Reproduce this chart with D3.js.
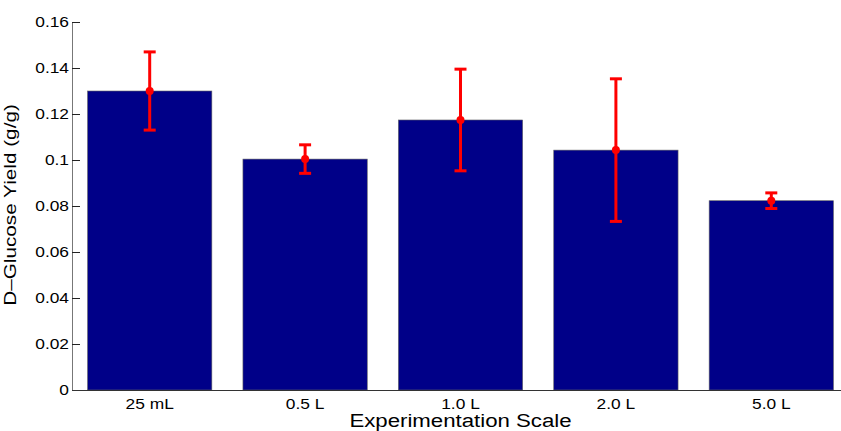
<!DOCTYPE html>
<html>
  <head>
    <meta charset="utf-8">
    <title>D-Glucose Yield</title>
    <script src="https://cdn.jsdelivr.net/npm/d3@7"></script>
    <style>
      body { margin: 0; background: #fff; }
      text { font-family: "Liberation Sans", Arial, sans-serif; fill: #000; }
    </style>
  </head>
  <body>
    <svg id="chart" width="841" height="431"></svg>
    <script>
      const scales = ["25 mL", "0.5 L", "1.0 L", "2.0 L", "5.0 L"];
      const yields = [0.130, 0.1004, 0.1174, 0.1043, 0.0823];
      const errors = [0.017, 0.0062, 0.0221, 0.0310, 0.0034];
      const yTicks = [0, 0.02, 0.04, 0.06, 0.08, 0.1, 0.12, 0.14, 0.16];

      const svg = d3.select("#chart");
      const plotLeft = 72, plotRight = 849, plotTop = 22, plotBottom = 390;
      const widen = 1.12; // the original font renders a bit wider than Arial

      // stretch text horizontally around its own anchor point
      function stretch(sel, k) {
        sel.each(function () {
          const t = d3.select(this);
          const tx = +t.attr("x") || 0, ty = +t.attr("y") || 0;
          t.attr("x", 0).attr("y", 0)
            .attr("transform", `translate(${tx},${ty}) scale(${k},1)`);
        });
      }

      const x = d3.scaleBand()
        .domain(scales)
        .range([plotLeft, plotRight])
        .paddingInner(0.2)
        .paddingOuter(0.1);

      const y = d3.scaleLinear().domain([0, 0.16]).range([plotBottom, plotTop]);

      const data = scales.map((s, i) => ({ s, v: yields[i], e: errors[i] }));

      // bars
      svg.append("g")
        .selectAll("rect")
        .data(data)
        .enter()
        .append("rect")
        .attr("x", d => x(d.s))
        .attr("y", d => y(d.v))
        .attr("width", x.bandwidth())
        .attr("height", d => y(0) - y(d.v))
        .attr("fill", "#000088")
        .attr("stroke", "#666")
        .attr("stroke-width", 0.6);

      // error bars
      const err = svg.append("g").attr("stroke", "#ff0000").attr("stroke-width", 3);
      const cx = d => x(d.s) + x.bandwidth() / 2;
      err.selectAll("line.v").data(data).enter().append("line")
        .attr("x1", cx).attr("x2", cx)
        .attr("y1", d => y(d.v + d.e)).attr("y2", d => y(d.v - d.e));
      err.selectAll("line.t").data(data).enter().append("line")
        .attr("x1", d => cx(d) - 6).attr("x2", d => cx(d) + 6)
        .attr("y1", d => y(d.v + d.e)).attr("y2", d => y(d.v + d.e));
      err.selectAll("line.b").data(data).enter().append("line")
        .attr("x1", d => cx(d) - 6).attr("x2", d => cx(d) + 6)
        .attr("y1", d => y(d.v - d.e)).attr("y2", d => y(d.v - d.e));
      svg.append("g").selectAll("circle").data(data).enter().append("circle")
        .attr("cx", cx).attr("cy", d => y(d.v)).attr("r", 4).attr("fill", "#ff0000");

      // y axis (ticks inward, MATLAB style)
      const yAxis = svg.append("g")
        .attr("transform", `translate(${plotLeft},0)`)
        .call(d3.axisLeft(y).tickValues(yTicks).tickFormat(d3.format("~g")).tickSizeInner(-8).tickSizeOuter(0).tickPadding(3));
      yAxis.attr("font-size", 15.5).attr("font-family", "Liberation Sans, Arial, sans-serif");
      yAxis.select(".domain").attr("stroke", "#777");
      yAxis.selectAll(".tick line").attr("stroke", "#222");
      yAxis.selectAll("text").attr("font-size", 15.5).call(stretch, widen);

      // x axis
      const xAxis = svg.append("g")
        .attr("transform", `translate(0,${plotBottom})`)
        .call(d3.axisBottom(x).tickSize(0).tickPadding(8));
      xAxis.attr("font-size", 15.5).attr("font-family", "Liberation Sans, Arial, sans-serif");
      xAxis.select(".domain").attr("stroke", "#333").attr("d", `M${plotLeft},0.5H841`);
      xAxis.selectAll("text").attr("font-size", 15.5).call(stretch, widen);

      // labels
      svg.append("text")
        .attr("x", (plotLeft + plotRight) / 2)
        .attr("y", 427)
        .attr("text-anchor", "middle")
        .attr("font-size", 19)
        .text("Experimentation Scale")
        .call(stretch, 1.17);

      svg.append("text")
        .attr("transform", `translate(16,205) rotate(-90) scale(1.22,1)`)
        .attr("text-anchor", "middle")
        .attr("font-size", 17)
        .text("D\u2013Glucose Yield (g/g)");
    </script>
  </body>
</html>
